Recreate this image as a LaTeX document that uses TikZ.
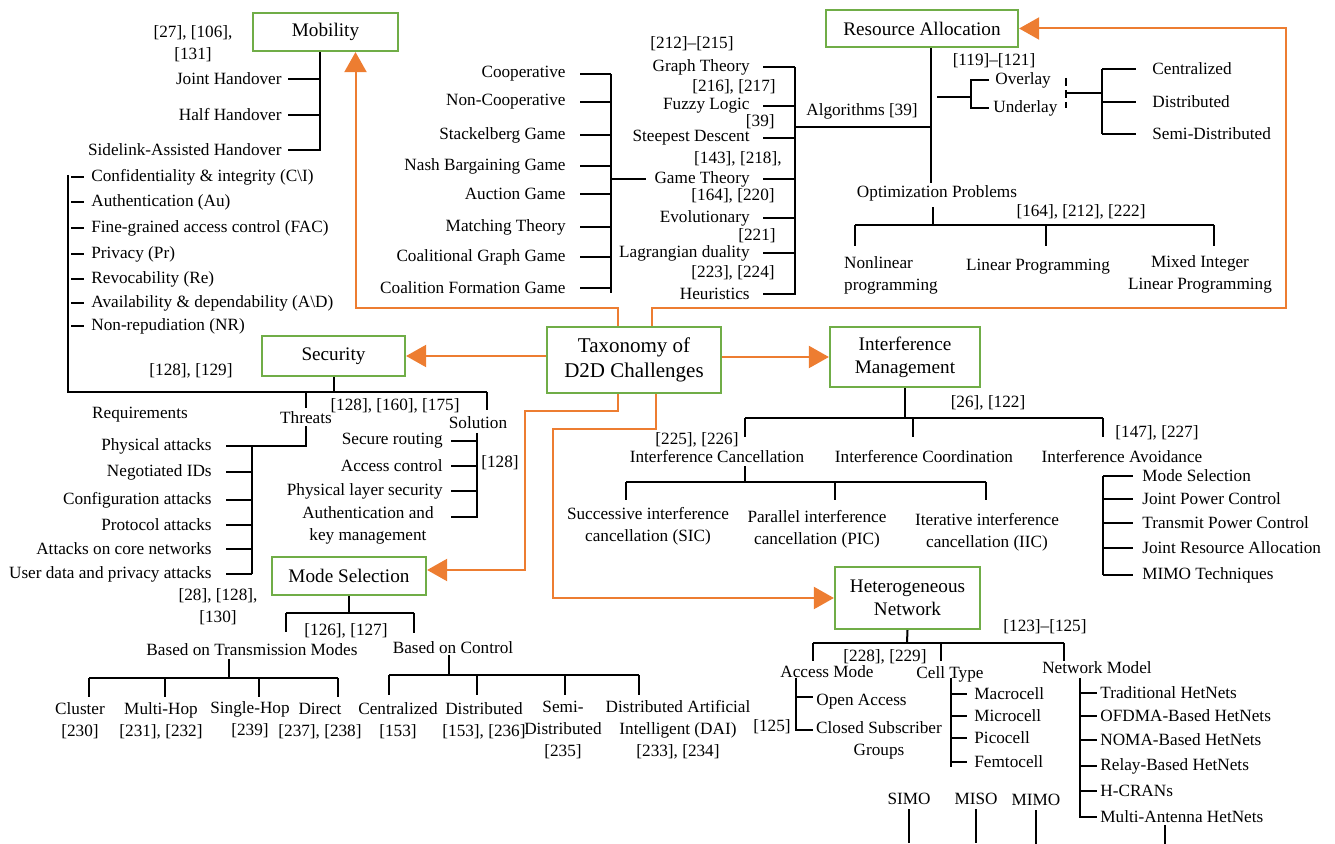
\documentclass[tikz,border=0pt]{standalone}
\usepackage{fontspec}
\setmainfont{Liberation Serif}
\usetikzlibrary{arrows.meta}
\definecolor{boxgreen}{RGB}{112,173,71}
\definecolor{linkorange}{RGB}{237,125,49}

\begin{document}
\begin{tikzpicture}[x=0.5pt, y=-0.5pt,
  box/.style={draw=boxgreen, line width=1.1pt, inner sep=0pt, align=center, font=\fontsize{9.6}{11.5}\selectfont},
  lbl/.style={inner sep=0pt, font=\fontsize{8.6}{11}\selectfont},
  tree/.style={line width=1pt},
  link/.style={draw=linkorange, line width=1pt, -{Triangle[length=10pt, width=11pt]}}]

  \useasboundingbox (0,0) rectangle (1335,844);

  % Draw the boxes
  \node[box, minimum width=72.5pt, minimum height=19pt] (mob) at (325.5,32) {Mobility};
  \node[box, minimum width=96pt, minimum height=18.5pt] (res) at (922,28.5) {Resource Allocation};
  \node[box, minimum width=71.5pt, minimum height=20pt] (sec) at (333.5,356) {Security};
  \node[box, minimum width=87pt, minimum height=33pt, font=\fontsize{10.5}{12.5}\selectfont] (tax) at (634,360) {Taxonomy of\\D2D Challenges};
  \node[box, minimum width=75pt, minimum height=30pt] (img) at (905,357) {Interference\\Management};
  \node[box, minimum width=77pt, minimum height=19pt] (mode) at (349,576) {Mode Selection};
  \node[box, minimum width=72.5pt, minimum height=31pt] (het) at (907.5,598) {Heterogeneous\\Network};

  % Draw the orange links
  \draw[link] (tax.east |- img.west) -- (img.west);
  \draw[link] (tax.west |- sec.east) -- (sec.east);
  \draw[link] ([xshift=-8pt]tax.north) -- ++(0,-18) -| ([xshift=15pt]mob.south);
  \draw[link] ([xshift=9pt]tax.north) -- ++(0,-18) -- ++(634,0) |- (res.east);
  \draw[link] ([xshift=-8pt]tax.south) -- ++(0,17) -- ++(-93,0) |- ([yshift=3pt]mode.east);
  \draw[link] ([xshift=11pt]tax.south) -- ++(0,35) -- ++(-103,0) |- (het.west);

  % Mobility
  \node[lbl, align=center] (mobref) at (193,44) {[27], [106],\\{[131]}};
  \coordinate (mobbar) at (320,151);
  \foreach \y/\txt in {79/Joint Handover, 115/Half Handover, 150/Sidelink-Assisted Handover}{
    \node[lbl, anchor=east] (mob\y) at (282,\y) {\txt};
    \draw[tree] (mobbar |- mob\y) -- ++(-32,0);
  }
  \draw[tree] (mob.south -| mobbar) -- (mobbar);

  % Security: requirements
  \coordinate (reqtop) at (68,175);
  \coordinate (secL) at (68,392);
  \coordinate (secR) at (487,392);
  \foreach \y/\txt in {177/Confidentiality \& integrity (C\textbackslash I), 202/Authentication (Au), 228/Fine-grained access control (FAC), 254/Privacy (Pr), 279/Revocability (Re), 303/Availability \& dependability (A\textbackslash D), 326/Non-repudiation (NR)}{
    \node[lbl, anchor=west] (req\y) at (91,\y) {\txt};
    \draw[tree] (reqtop |- req\y) ++(3,0) -- ++(13,0);
  }
  \draw[tree] (reqtop) -- (secL) -- (secR);
  \draw[tree] (sec.south) -- (sec.south |- secL);
  \node[lbl] (secref) at (191,371) {[128], [129]};
  \node[lbl] (reqlbl) at (140,415) {Requirements};

  % Security: threats
  \node[lbl] (thr) at (306,418) {Threats};
  \node[lbl] (thrref) at (395,406) {[128], [160], [175]};
  \draw[tree] (thr |- secL) -- ([yshift=2pt]thr.north);
  \coordinate (thrbar) at (252,446);
  \draw[tree] ([yshift=-1pt]thr.south) -- (thr.south |- thrbar) -- ++(-80,0);
  \foreach \y/\txt in {446/Physical attacks, 472/Negotiated IDs, 500/Configuration attacks, 525/Protocol attacks, 549/Attacks on core networks, 574/User data and privacy attacks}{
    \node[lbl, anchor=east] (thr\y) at (212,\y) {\txt};
    \draw[tree] (thrbar |- thr\y) -- ++(-26,0);
  }
  \draw[tree] (thrbar) -- (thrbar |- thr574);

  % Security: solution
  \node[lbl] (sol) at (478,423) {Solution};
  \draw[tree] (secR) -- ++(0,18);
  \coordinate (solbar) at (477,433);
  \foreach \y/\txt in {441/Secure routing, 466/Access control, 491/Physical layer security}{
    \node[lbl, anchor=east] (sol\y) at (443,\y) {\txt};
    \draw[tree] (solbar |- sol\y) -- ++(-26,0);
  }
  \node[lbl, align=center] (solakm) at (368,525) {Authentication and\\key management};
  \draw[tree] (solbar) -- ++(0,84) -- ++(-26,0);
  \node[lbl] (solref) at (500,463) {[128]};

  % Game types
  \coordinate (gamebar) at (611,74);
  \foreach \y/\txt in {74/Cooperative, 102/Non-Cooperative, 135/Stackelberg Game, 166/Nash Bargaining Game, 194/Auction Game, 227/Matching Theory, 257/Coalitional Graph Game, 288/Coalition Formation Game}{
    \node[lbl, anchor=east] (game\y) at (566,\y) {\txt};
    \draw[tree] (gamebar |- game\y) -- ++(-31,0);
  }
  \draw[tree] (gamebar) -- ++(0,219);

  % Algorithms
  \coordinate (algbar) at (795,67);
  \foreach \y/\txt in {67/Graph Theory, 106/Fuzzy Logic, 138/Steepest Descent, 179/Game Theory, 218/Evolutionary, 253/Lagrangian duality, 294/Heuristics}{
    \node[lbl, anchor=east] (alg\y) at (750,\y) {\txt};
    \draw[tree] (algbar |- alg\y) -- ++(-32,0);
  }
  \draw[tree] (algbar) -- ++(0,228);
  \draw[tree] (gamebar |- alg179) -- ([xshift=-4pt]alg179.west);
  \node[lbl] (algref1) at (692,44) {[212]–[215]};
  \node[lbl, anchor=east] (algref2) at (776,87) {[216], [217]};
  \node[lbl, anchor=east] (algref3) at (775,122) {[39]};
  \node[lbl, anchor=east] (algref4) at (782,159) {[143], [218],};
  \node[lbl, anchor=east] (algref5) at (775,196) {[164], [220]};
  \node[lbl, anchor=east] (algref6) at (776,236) {[221]};
  \node[lbl, anchor=east] (algref7) at (775,273) {[223], [224]};

  % Resource allocation
  \coordinate (resbar) at (931,183);
  \coordinate (algjoin) at (931,127);
  \draw[tree] (res.south -| resbar) -- (resbar);
  \draw[tree] (algbar |- algjoin) -- (algjoin);
  \node[lbl] (alglbl) at (862,111) {Algorithms [39]};
  \node[lbl] (opt) at (937,193) {Optimization Problems};
  \node[lbl] (optref) at (1081,212) {[164], [212], [222]};
  \coordinate (optbus) at (933,225);
  \coordinate (optL) at (855,225);
  \coordinate (optM) at (1046,225);
  \coordinate (optR) at (1214,225);
  \draw[tree] (optbus) -- ++(0,-18);
  \draw[tree] (optL) -- (optR);
  \foreach \c in {optL, optM, optR} \draw[tree] (\c) -- ++(0,21);
  \node[lbl, align=left] (nlp) at (891,275) {Nonlinear\\programming};
  \node[lbl] (lp) at (1038,267) {Linear Programming};
  \node[lbl, align=center] (milp) at (1200,274) {Mixed Integer\\Linear Programming};

  % Overlay / underlay
  \node[lbl] (resref) at (994,61) {[119]–[121]};
  \node[lbl, anchor=west] (ovl) at (995,80) {Overlay};
  \node[lbl, anchor=west] (udl) at (993,108) {Underlay};
  \coordinate (ovlbar) at (971,97);
  \draw[tree] ([xshift=-3pt]ovl.west) -| (ovlbar) |- ([xshift=-2pt]udl.west);
  \draw[tree] (ovlbar) -- ++(-34,0);
  \coordinate (ctldash) at (1066,93);
  \coordinate (ctlbar) at (1102,93);
  \draw[tree, dash pattern=on 4pt off 2pt] (ctldash) ++(0,-15) -- ++(0,30);
  \draw[tree] (ctldash) -- (ctlbar);
  \foreach \y/\txt in {69/Centralized, 102/Distributed, 134/Semi-Distributed}{
    \node[lbl, anchor=west] (ctl\y) at (1152,\y) {\txt};
    \draw[tree] (ctlbar |- ctl\y) -- ++(34,0);
  }
  \draw[tree] (ctlbar |- ctl69) -- (ctlbar |- ctl134);

  % Interference management
  \coordinate (imbus) at (905,418);
  \coordinate (imL) at (745,418);
  \coordinate (imM) at (913,418);
  \coordinate (imR) at (1103,418);
  \draw[tree] (img.south) -- (imbus);
  \draw[tree] (imL) -- (imR);
  \foreach \c in {imL, imM, imR} \draw[tree] (\c) -- ++(0,19);
  \node[lbl] (imref) at (988,403) {[26], [122]};
  \node[lbl] (iaref) at (1157,433) {[147], [227]};
  \node[lbl] (icref) at (697,440) {[225], [226]};
  \node[lbl] (ic) at (717,457) {Interference Cancellation};
  \node[lbl] (ico) at (924,457) {Interference Coordination};
  \node[lbl] (ia) at (1122,457) {Interference Avoidance};

  % Interference cancellation
  \coordinate (icbus) at (745,482);
  \coordinate (icL) at (626,482);
  \coordinate (icM) at (835,482);
  \coordinate (icR) at (986,482);
  \draw[tree] (icbus) -- ++(0,-16);
  \draw[tree] (icL) -- (icR);
  \foreach \c in {icL, icM, icR} \draw[tree] (\c) -- ++(0,18);
  \node[lbl, align=center] (sic) at (648,526) {Successive interference\\cancellation (SIC)};
  \node[lbl, align=center] (pic) at (817,529) {Parallel interference\\cancellation (PIC)};
  \node[lbl, align=center] (iic) at (987,532) {Iterative interference\\cancellation (IIC)};

  % Interference avoidance
  \coordinate (iabar) at (1103,476);
  \foreach \y/\txt in {476/Mode Selection, 499/Joint Power Control, 523/Transmit Power Control, 548/Joint Resource Allocation, 575/MIMO Techniques}{
    \node[lbl, anchor=west] (ia\y) at (1142,\y) {\txt};
    \draw[tree] (iabar |- ia\y) -- ++(30,0);
  }
  \draw[tree] (iabar) -- (iabar |- ia575);

  % Mode selection
  \node[lbl, align=center] (moderef) at (218,607) {[28], [128],\\{[130]}};
  \coordinate (modebus) at (349,613);
  \coordinate (modeL) at (286,613);
  \coordinate (modeR) at (414,613);
  \draw[tree] (mode.south) -- (modebus);
  \draw[tree] (modeL) -- (modeR);
  \draw[tree] (modeL) -- ++(0,19);
  \draw[tree] (modeR) -- ++(0,20);
  \node[lbl] (moderef2) at (346,631) {[126], [127]};
  \node[lbl] (tm) at (252,650) {Based on Transmission Modes};
  \node[lbl] (bc) at (453,648) {Based on Control};

  \coordinate (tmbus) at (229,678);
  \draw[tree] (tmbus) -- ++(0,-19);
  \draw[tree] (tmbus) ++(-140,0) -- ++(249,0);
  \foreach \dx in {-140,-64,30,109} \draw[tree] (tmbus) ++(\dx,0) -- ++(0,19);
  \node[lbl, align=center] (tm1) at (80,721) {Cluster\\{[230]}};
  \node[lbl, align=center] (tm2) at (161,721) {Multi-Hop\\{[231], [232]}};
  \node[lbl, align=center] (tm3) at (250,720) {Single-Hop\\{[239]}};
  \node[lbl, align=center] (tm4) at (320,721) {Direct\\{[237], [238]}};

  \coordinate (bcbus) at (449,675);
  \draw[tree] (bcbus) -- ++(0,-20);
  \draw[tree] (bcbus) ++(-60,0) -- ++(250,0);
  \foreach \dx in {-60,28,116,190} \draw[tree] (bcbus) ++(\dx,0) -- ++(0,20);
  \node[lbl, align=center] (bc1) at (398,721) {Centralized\\{[153]}};
  \node[lbl, align=center] (bc2) at (484,721) {Distributed\\{[153], [236]}};
  \node[lbl, align=center] (bc3) at (563,730) {Semi-\\Distributed\\{[235]}};
  \node[lbl, align=center] (bc4) at (678,730) {Distributed Artificial\\Intelligent (DAI)\\{[233], [234]}};

  % Heterogeneous network
  \coordinate (hetbus) at (907,643);
  \coordinate (hetL) at (813,643);
  \coordinate (hetM) at (941,643);
  \coordinate (hetR) at (1064,643);
  \draw[tree] (het.south) -- (hetbus);
  \draw[tree] (hetL) -- (hetR);
  \foreach \c in {hetL, hetM, hetR} \draw[tree] (\c) -- ++(0,18);
  \node[lbl] (hetref) at (1045,627) {[123]–[125]};
  \node[lbl] (hetref2) at (885,657) {[228], [229]};
  \node[lbl] (am) at (827,672) {Access Mode};
  \node[lbl] (ct) at (950,674) {Cell Type};
  \node[lbl] (nm) at (1097,668) {Network Model};

  \coordinate (ambar) at (796,678);
  \node[lbl, anchor=west] (am1) at (816,702) {Open Access};
  \node[lbl, align=center] (am2) at (879,740) {Closed Subscriber\\Groups};
  \node[lbl, anchor=east] (amref) at (791,727) {[125]};
  \draw[tree] (ambar) -- ++(0,52) -- ++(17,0);
  \draw[tree] (ambar) ++(0,19) -- ++(17,0);

  \coordinate (ctbar) at (951,678);
  \foreach \y/\txt in {694/Macrocell, 716/Microcell, 738/Picocell, 762/Femtocell}{
    \node[lbl, anchor=west] (ct\y) at (974,\y) {\txt};
    \draw[tree] (ctbar |- ct\y) -- ++(16,0);
  }
  \draw[tree] (ctbar) -- ++(0,89);

  \coordinate (nmbar) at (1080,678);
  \foreach \y/\txt in {693/Traditional HetNets, 716/OFDMA-Based HetNets, 740/NOMA-Based HetNets, 766/Relay-Based HetNets, 791/H-CRANs, 817/Multi-Antenna HetNets}{
    \node[lbl, anchor=west] (nm\y) at (1100,\y) {\txt};
    \draw[tree] (nmbar |- nm\y) -- ++(17,0);
  }
  \draw[tree] (nmbar) -- ++(0,140);

  % Antenna types at the bottom
  \node[lbl] (simo) at (909,799) {SIMO};
  \node[lbl] (miso) at (976,799) {MISO};
  \node[lbl] (mimo) at (1036,800) {MIMO};
  \foreach \n in {simo, miso, mimo} \draw[tree] ([yshift=-2pt]\n.south) -- ++(0,34);
  \coordinate (nmtail) at (1165,825);
  \draw[tree] (nmtail) -- ++(0,19);

\end{tikzpicture}
\end{document}
